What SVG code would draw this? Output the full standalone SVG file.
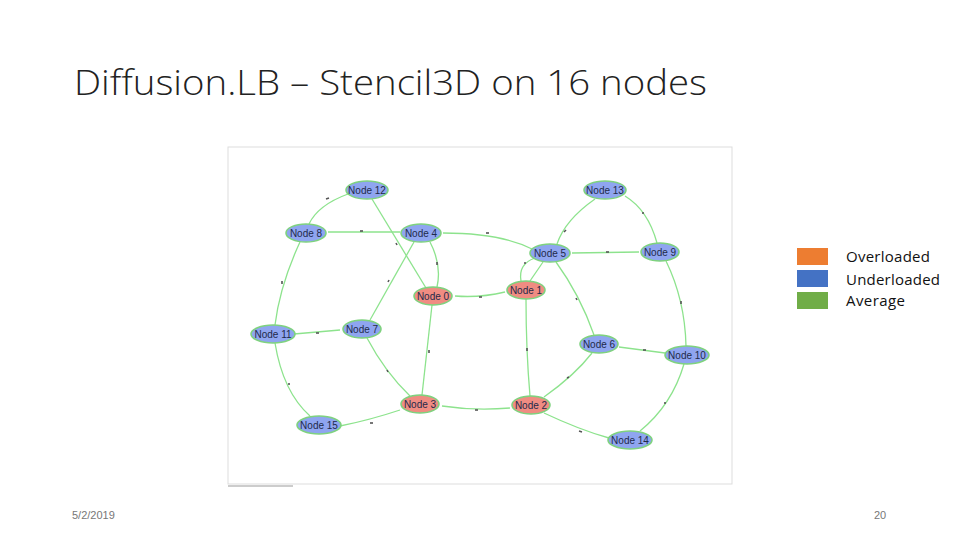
<svg xmlns="http://www.w3.org/2000/svg" width="960" height="540" viewBox="0 0 960 540">
<style>
.title{font-family:"Open Sans","Liberation Sans",sans-serif;font-weight:300;font-size:35px;fill:#222}
.foot{font-family:"Liberation Sans",sans-serif;font-size:11px;fill:#777}
.leg{font-family:"Open Sans","Liberation Sans",sans-serif;font-size:15px;fill:#111}
.e{fill:none;stroke:#8de38d;stroke-width:1.3}
.t{stroke:#555;stroke-width:1.6}
.n ellipse{stroke:#7fd27f;stroke-width:1.6}
.u ellipse{fill:#8fa5f0}
.o ellipse{fill:#f08c82}
.n text{font-family:"Liberation Sans",sans-serif;font-size:10px;fill:#1e2a4a;text-anchor:middle}
</style>
<rect width="960" height="540" fill="#fff"/>
<text class="title" x="74" y="95" textLength="633" lengthAdjust="spacingAndGlyphs">Diffusion.LB – Stencil3D on 16 nodes</text>
<rect x="228" y="147" width="504" height="337" fill="#fff" stroke="#ddd" stroke-width="1"/>
<line x1="228" y1="486" x2="293" y2="486" stroke="#ccc" stroke-width="2"/>
<g id="connectors">
<path class="e" d="M348 194 Q318 205 309 224"/>
<path class="e" d="M372 199 L426 288"/>
<path class="e" d="M328 232 L400 232"/>
<path class="e" d="M300 242 Q280 285 275 325"/>
<path class="e" d="M430 242 Q442 265 437 287"/>
<path class="e" d="M414 242 L370 320"/>
<path class="e" d="M443 233 Q500 233 532 249"/>
<path class="e" d="M455 296 Q480 298 505 292"/>
<path class="e" d="M432 305 L422 395"/>
<path class="e" d="M521 281 Q518 264 535 258"/>
<path class="e" d="M530 281 L543 262"/>
<path class="e" d="M595 199 Q565 220 557 244"/>
<path class="e" d="M625 196 Q648 210 657 243"/>
<path class="e" d="M572 253 L639 252"/>
<path class="e" d="M556 262 Q580 295 594 335"/>
<path class="e" d="M666 261 Q685 300 686 346"/>
<path class="e" d="M526 299 Q526 350 530 396"/>
<path class="e" d="M294 334 L340 330"/>
<path class="e" d="M275 343 Q283 392 310 416"/>
<path class="e" d="M367 338 Q385 372 410 396"/>
<path class="e" d="M400 410 Q370 420 340 426"/>
<path class="e" d="M442 406 Q475 411 510 408"/>
<path class="e" d="M544 397 Q575 375 592 353"/>
<path class="e" d="M544 413 Q580 430 609 438"/>
<path class="e" d="M619 347 L665 353"/>
<path class="e" d="M684 364 Q672 405 640 431"/>
<g class="t">
<line x1="326" y1="199" x2="329" y2="198"/>
<line x1="396" y1="243" x2="397" y2="245"/>
<line x1="360" y1="231" x2="363" y2="231"/>
<line x1="282" y1="281" x2="282" y2="284"/>
<line x1="437" y1="262" x2="437" y2="265"/>
<line x1="388" y1="282" x2="389" y2="280"/>
<line x1="486" y1="233" x2="489" y2="233"/>
<line x1="479" y1="297" x2="482" y2="297"/>
<line x1="429" y1="350" x2="429" y2="353"/>
<line x1="524" y1="263" x2="526" y2="263"/>
<line x1="564" y1="232" x2="566" y2="230"/>
<line x1="643" y1="212" x2="643" y2="214"/>
<line x1="606" y1="252" x2="609" y2="252"/>
<line x1="576" y1="298" x2="577" y2="300"/>
<line x1="681" y1="301" x2="681" y2="304"/>
<line x1="527" y1="348" x2="527" y2="351"/>
<line x1="316" y1="333" x2="319" y2="333"/>
<line x1="289" y1="383" x2="289" y2="385"/>
<line x1="387" y1="370" x2="388" y2="372"/>
<line x1="370" y1="423" x2="373" y2="423"/>
<line x1="475" y1="410" x2="478" y2="410"/>
<line x1="567" y1="378" x2="569" y2="377"/>
<line x1="579" y1="431" x2="582" y2="432"/>
<line x1="643" y1="350" x2="646" y2="350"/>
<line x1="665" y1="402" x2="665" y2="404"/>
</g>
</g>
<g id="node12" class="n u"><ellipse cx="367" cy="190" rx="21" ry="9"/><text x="367" y="194">Node 12</text></g>
<g id="node13" class="n u"><ellipse cx="605" cy="190" rx="21" ry="9"/><text x="605" y="194">Node 13</text></g>
<g id="node8" class="n u"><ellipse cx="306" cy="233" rx="20" ry="9"/><text x="306" y="237">Node 8</text></g>
<g id="node4" class="n u"><ellipse cx="421" cy="233" rx="20" ry="9"/><text x="421" y="237">Node 4</text></g>
<g id="node5" class="n u"><ellipse cx="550" cy="253" rx="20" ry="9"/><text x="550" y="257">Node 5</text></g>
<g id="node9" class="n u"><ellipse cx="660" cy="252" rx="19" ry="9"/><text x="660" y="256">Node 9</text></g>
<g id="node0" class="n o"><ellipse cx="433" cy="296" rx="19" ry="9"/><text x="433" y="300">Node 0</text></g>
<g id="node1" class="n o"><ellipse cx="526" cy="290" rx="19" ry="9"/><text x="526" y="294">Node 1</text></g>
<g id="node11" class="n u"><ellipse cx="273" cy="334" rx="22" ry="9"/><text x="273" y="338">Node 11</text></g>
<g id="node7" class="n u"><ellipse cx="362" cy="329" rx="19" ry="9"/><text x="362" y="333">Node 7</text></g>
<g id="node6" class="n u"><ellipse cx="599" cy="344" rx="19" ry="9"/><text x="599" y="348">Node 6</text></g>
<g id="node10" class="n u"><ellipse cx="687" cy="355" rx="22" ry="9"/><text x="687" y="359">Node 10</text></g>
<g id="node3" class="n o"><ellipse cx="420" cy="404" rx="19" ry="9"/><text x="420" y="408">Node 3</text></g>
<g id="node2" class="n o"><ellipse cx="531" cy="405" rx="19" ry="9"/><text x="531" y="409">Node 2</text></g>
<g id="node15" class="n u"><ellipse cx="319" cy="425" rx="22" ry="9"/><text x="319" y="429">Node 15</text></g>
<g id="node14" class="n u"><ellipse cx="630" cy="440" rx="22" ry="9"/><text x="630" y="444">Node 14</text></g>
<g id="legend">
<rect x="797" y="248" width="31" height="17" fill="#ed7d31"/>
<rect x="797" y="270" width="31" height="17" fill="#4472c4"/>
<rect x="797" y="292" width="31" height="17" fill="#70ad47"/>
<text class="leg" x="846" y="262" textLength="84">Overloaded</text>
<text class="leg" x="846" y="285" textLength="94">Underloaded</text>
<text class="leg" x="846" y="306" textLength="59">Average</text>
</g>
<text class="foot" x="72" y="519">5/2/2019</text>
<text class="foot" x="874" y="519">20</text>
</svg>
